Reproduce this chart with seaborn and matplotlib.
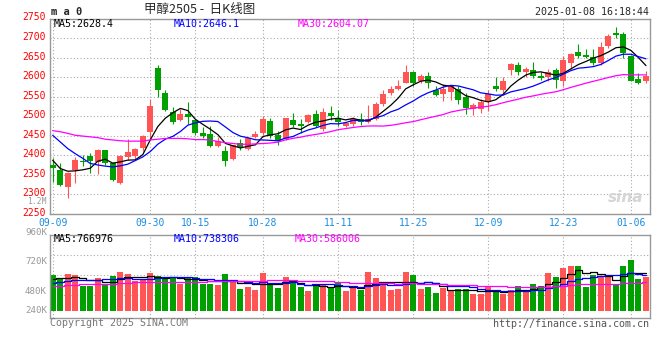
import numpy as np
import pandas as pd
import matplotlib
matplotlib.use('Agg')
import matplotlib.pyplot as plt
import matplotlib.transforms as mtransforms
import seaborn as sns

# daily candles, 2024-09-09 .. 2025-01-08 (80 trading days)
open_p = [2375, 2362, 2319, 2363, 2386, 2398, 2383, 2413, 2379, 2328,
          2396, 2398, 2419, 2460, 2624, 2560, 2511, 2490, 2505, 2490,
          2456, 2454, 2424, 2410, 2390, 2430, 2417, 2447, 2456, 2487,
          2451, 2441, 2490, 2479, 2486, 2505, 2468, 2507, 2495, 2475,
          2480, 2493, 2486, 2492, 2532, 2560, 2570, 2586, 2612, 2591,
          2603, 2567, 2557, 2563, 2570, 2549, 2518, 2518, 2535, 2576,
          2566, 2617, 2630, 2614, 2618, 2603, 2600, 2618, 2589, 2637,
          2664, 2657, 2651, 2636, 2680, 2712, 2711, 2654, 2595, 2589]
high_p = [2393, 2381, 2357, 2396, 2400, 2405, 2417, 2414, 2383, 2400,
          2441, 2419, 2451, 2543, 2630, 2566, 2524, 2518, 2536, 2493,
          2471, 2474, 2447, 2423, 2427, 2441, 2447, 2462, 2500, 2494,
          2462, 2495, 2507, 2492, 2505, 2515, 2520, 2526, 2515, 2486,
          2497, 2508, 2529, 2535, 2567, 2578, 2593, 2631, 2616, 2607,
          2612, 2578, 2582, 2578, 2578, 2559, 2533, 2543, 2567, 2600,
          2601, 2636, 2638, 2627, 2638, 2614, 2621, 2623, 2653, 2661,
          2685, 2671, 2671, 2689, 2710, 2728, 2716, 2657, 2610, 2616]
low_p = [2332, 2322, 2291, 2329, 2372, 2355, 2352, 2376, 2334, 2326,
         2389, 2387, 2411, 2439, 2549, 2513, 2479, 2487, 2481, 2451,
         2443, 2420, 2422, 2372, 2389, 2413, 2413, 2445, 2453, 2443,
         2426, 2440, 2471, 2456, 2483, 2471, 2462, 2490, 2474, 2472,
         2474, 2478, 2482, 2491, 2526, 2555, 2566, 2584, 2576, 2586,
         2573, 2552, 2539, 2542, 2531, 2505, 2503, 2509, 2514, 2565,
         2555, 2606, 2606, 2601, 2597, 2593, 2589, 2573, 2576, 2620,
         2650, 2648, 2631, 2631, 2674, 2699, 2648, 2590, 2582, 2584]
close_p = [2366, 2323, 2355, 2387, 2382, 2386, 2413, 2381, 2336, 2399,
           2408, 2416, 2449, 2526, 2568, 2515, 2485, 2505, 2498, 2457,
           2449, 2423, 2436, 2386, 2426, 2422, 2445, 2454, 2492, 2448,
           2436, 2494, 2477, 2474, 2503, 2474, 2511, 2500, 2485, 2482,
           2493, 2486, 2493, 2532, 2557, 2570, 2578, 2612, 2584, 2603,
           2584, 2555, 2569, 2576, 2542, 2520, 2529, 2535, 2557, 2569,
           2590, 2634, 2612, 2621, 2603, 2597, 2612, 2593, 2644, 2659,
           2653, 2651, 2636, 2676, 2705, 2708, 2661, 2591, 2584, 2603]
# volume in thousands of lots
volume_k = [734, 665, 755, 734, 515, 515, 672, 542, 713, 796,
            761, 611, 624, 782, 713, 665, 665, 556, 693, 693,
            556, 556, 528, 755, 617, 446, 487, 432, 782, 569,
            466, 693, 590, 487, 405, 515, 556, 460, 563, 405,
            460, 425, 796, 672, 590, 425, 446, 796, 734, 446,
            487, 364, 466, 405, 446, 446, 343, 343, 480, 405,
            343, 425, 508, 425, 549, 508, 775, 693, 878, 919,
            919, 487, 734, 693, 693, 528, 919, 1043, 652, 693]

# moving-average values before the window is full
ma5_head = [2387, 2366, 2359, 2360]
ma10_head = [2451, 2434, 2417, 2404, 2392, 2379, 2375, 2372, 2370]
ma30_head = [2463, 2460, 2456, 2451, 2449, 2447, 2445, 2441, 2439, 2437,
             2436, 2436, 2436, 2439, 2441, 2443, 2443, 2443, 2442, 2440,
             2440, 2439, 2435, 2432, 2430, 2428, 2428, 2429, 2430]
vol_ma5_head = [652, 665, 680, 690]
vol_ma10_head = [576, 590, 611, 624, 631, 631, 638, 645, 652]
vol_ma30_head = [508, 510, 535, 540, 542, 545, 548, 550, 555, 570,
                 578, 582, 584, 585, 585, 586, 586, 588, 592, 596,
                 600, 604, 608, 610, 612, 612, 612, 612, 612]

date_idx = [0, 13, 19, 28, 38, 48, 58, 68, 77]
date_labels = ['09-09', '09-30', '10-15', '10-28', '11-11', '11-25', '12-09', '12-23', '01-06']
price_ticks = list(range(2250, 2751, 50))
vol_label_vals = [2250, 1620, 1023, 405, 0]
vol_labels = ['1.2M', '960K', '720K', '480K', '240K']


def moving_avg(values, n, head):
    s = pd.Series(values, dtype=float).rolling(n).mean()
    s.iloc[:len(head)] = head
    return s


df = pd.DataFrame({'open': open_p, 'high': high_p, 'low': low_p,
                   'close': close_p, 'vol': volume_k})
df['x'] = np.arange(len(df))
df['ma5'] = moving_avg(close_p, 5, ma5_head)
df['ma10'] = moving_avg(close_p, 10, ma10_head)
df['ma30'] = moving_avg(close_p, 30, ma30_head)
df['vma5'] = moving_avg(volume_k, 5, vol_ma5_head)
df['vma10'] = moving_avg(volume_k, 10, vol_ma10_head)
df['vma30'] = moving_avg(volume_k, 30, vol_ma30_head)

RED = '#ff5555'
GREEN = '#00a000'
GRID = '#aaaaaa'
colors = np.where(df['close'] >= df['open'], RED, GREEN)

sns.set_style('white')
plt.rcParams['font.family'] = ['DejaVu Sans Mono', 'Noto Sans CJK SC']

fig = plt.figure(figsize=(6.6, 3.6), dpi=100)
W, H = 660.0, 360.0


def px(x, y):
    return x / W, 1 - y / H


ax = fig.add_axes([50 / W, 1 - 213.8 / H, 599.5 / W, 195.3 / H])
axv = fig.add_axes([50 / W, 1 - 318 / H, 599.5 / W, 83.3 / H])

# candles
body = np.maximum((df['close'] - df['open']).abs(), 1.2)
ax.vlines(df['x'], df['low'], df['high'], colors=colors, linewidth=0.8, zorder=3)
ax.bar(df['x'], body, bottom=np.minimum(df['open'], df['close']), width=0.8,
       color=colors, linewidth=0, zorder=3)

for col, c in [('ma5', 'black'), ('ma10', '#0000ff'), ('ma30', '#ff00ff')]:
    sns.lineplot(data=df, x='x', y=col, color=c, linewidth=0.9, ax=ax, zorder=4)

# volume
axv.bar(df['x'], df['vol'], width=0.8, color=colors, linewidth=0, zorder=2)
for col, c in [('vma5', 'black'), ('vma10', '#0000ff'), ('vma30', '#ff00ff')]:
    sns.lineplot(data=df, x='x', y=col, color=c, linewidth=0.9, ax=axv,
                 drawstyle='steps-mid', zorder=3)

for a in (ax, axv):
    a.set_xlim(-0.36, 79.47)
    a.set_xticks(date_idx)
    a.grid(True, color=GRID, linestyle=(0, (1, 2)), linewidth=0.8)
    a.set_xlabel('')
    a.set_ylabel('')
    a.tick_params(length=0, labelsize=7)
    for sp in a.spines.values():
        sp.set_color('#999999')
        sp.set_linewidth(1)

ax.set_ylim(2250, 2750)
ax.set_yticks(price_ticks)
ax.set_yticklabels([str(v) for v in price_ticks], color='#ff0000')
ax.set_xticklabels(date_labels, color='#1a8ce0')
ax.tick_params(axis='y', pad=3)
ax.tick_params(axis='x', pad=3)
# price labels sit a little above their grid lines
shift = mtransforms.ScaledTranslation(0, 2 / 100, fig.dpi_scale_trans)
for lab in ax.get_yticklabels():
    lab.set_transform(lab.get_transform() + shift)

axv.set_ylim(-150, 1566)
axv.set_yticks([317, 729, 1141])
axv.set_yticklabels([])
axv.set_xticklabels([])
for v, lab in zip(vol_label_vals, vol_labels):
    size = 5.8 if lab == '1.2M' else 6.6
    axv.text(-0.005, v, lab, transform=axv.get_yaxis_transform(), ha='right',
             va='center', fontsize=size, color='#999999', clip_on=False)

# header and panel captions
fig.text(*px(51, 12), 'm a 0', fontsize=7.5, fontweight='bold', va='center', ha='left')
fig.text(*px(200, 10), '甲醇2505 -  日K线图', fontsize=9, va='center', ha='center',
         family=['Noto Sans CJK SC', 'DejaVu Sans'])
fig.text(*px(649, 12), '2025-01-08 16:18:44', fontsize=7.2, va='center', ha='right')

fig.text(*px(54, 24), 'MA5:2628.4', fontsize=7.2, va='center', color='black')
fig.text(*px(174, 24), 'MA10:2646.1', fontsize=7.2, va='center', color='#0000ff')
fig.text(*px(298, 24), 'MA30:2604.07', fontsize=7.2, va='center', color='#ff00ff')

fig.text(*px(54, 238.5), 'MA5:766976', fontsize=7.2, va='center', color='black')
fig.text(*px(174, 238.5), 'MA10:738306', fontsize=7.2, va='center', color='#0000ff')
fig.text(*px(295, 238.5), 'MA30:586006', fontsize=7.2, va='center', color='#ff00ff')

fig.text(*px(626, 197), 'sina', fontsize=11, fontstyle='italic', fontweight='bold',
         color='#d5d5d5', va='center', ha='center', family='DejaVu Sans')

fig.text(*px(50, 323.5), 'Copyright 2025 SINA.COM', fontsize=7.2, va='center',
         ha='left', color='#777777')
fig.text(*px(649, 324), 'http://finance.sina.com.cn', fontsize=7.2, va='center',
         ha='right', color='#555555')

fig.savefig('out.png', dpi=100)
plt.close(fig)
